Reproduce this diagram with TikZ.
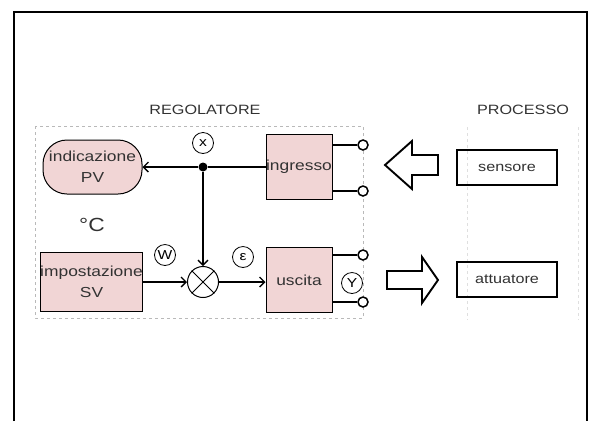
\documentclass[tikz,border=0pt]{standalone}
\usepackage{fontspec}
\setmainfont{Liberation Sans}[FakeStretch=1.2]
\usetikzlibrary{arrows.meta,calc}
\definecolor{blockpink}{RGB}{241,213,213}
\definecolor{inkgray}{RGB}{50,50,50}

\begin{document}
\begin{tikzpicture}[x=1pt,y=-1pt]
% ---------------------------------------------------------
% Dimensions (pixel-like units, y grows downwards)
% ---------------------------------------------------------
\def\PicW{596}       % picture width
\def\PicH{421}       % picture height
\def\TermX{363}      % x of the terminal circles
\def\MainY{167}      % y of the measured-value line
\def\SumY{282}       % y of the error line

% ---------------------------------------------------------
% Styles
% ---------------------------------------------------------
\tikzset{
  block/.style={fill=blockpink, draw=black, line width=1pt,
    inner sep=0pt, align=center, text=inkgray,
    font=\fontsize{14.5}{21}\selectfont},
  pv block/.style={block, rounded corners=24pt},
  out box/.style={draw=black, line width=1.6pt, minimum width=100,
    minimum height=35, inner sep=0pt, text=inkgray,
    font=\fontsize{13.5}{16}\selectfont},
  tag/.style={circle, draw=black, line width=0.8pt, minimum size=21,
    inner sep=0pt, font=\fontsize{13}{13}\selectfont},
  sumnode/.style={circle, draw=black, line width=1pt, minimum size=31,
    inner sep=0pt},
  junction/.style={circle, fill=black, minimum size=9, inner sep=0pt},
  term/.style={circle, draw=black, line width=1.5pt, fill=white,
    minimum size=10, inner sep=0pt},
  conn/.style={line width=1.3pt, -{Straight Barb[length=5pt,width=10pt]}},
  wire/.style={line width=1.3pt},
  hollow arrow/.style={draw=black, line width=1.9pt, line join=miter},
  title text/.style={text=inkgray, font=\fontsize{13.5}{16}\selectfont},
  zone/.style={draw=gray!55, dashed, line width=0.5pt},
  zone faint/.style={draw=gray!25, dashed, line width=0.5pt}
}

\useasboundingbox (0,0) rectangle (\PicW,\PicH);

% =========================================================
% 1) OUTER FRAME (open at the bottom)
% =========================================================
\draw[line width=2pt] (14,\PicH) |- (587,12) -- (587,\PicH);

% =========================================================
% 2) ZONES AND TITLES
% =========================================================
\draw[zone] (35,126) rectangle (363,318);
\draw[zone faint] (467,127) -- (467,320);
\draw[zone faint] (578,127) -- (578,320);

\node[title text] (regtitle) at (205,110) {REGOLATORE};
\node[title text] (proctitle) at (523,110) {PROCESSO};

% =========================================================
% 3) BLOCKS OF THE CONTROLLER
% =========================================================
\node[pv block, minimum width=99, minimum height=54] (pv) at (92.5,\MainY)
  {indicazione\\PV};
\node[block, minimum width=97, minimum height=59] (imp) at (91.5,\SumY)
  {impostazione\\SV};
\node[block, minimum width=66, minimum height=65] (ingr) at (299,\MainY)
  {ingresso};
\node[block, minimum width=66, minimum height=65] (usc) at (299,280)
  {uscita};

\node[text=inkgray, font=\fontsize{19}{19}\selectfont] (unit) at (92,225)
  {\textdegree C};

% Junction and summing point
\node[junction] (jn) at (203,\MainY) {};
\node[sumnode] (sum) at (203,\SumY) {};
\draw[line width=1pt] (sum.north east) -- (sum.south west);
\draw[line width=1pt] (sum.north west) -- (sum.south east);

% Signal tags
\node[tag] (tagx) at (203,143) {x};
\node[tag] (tagw) at (165,255) {W};
\node[tag] (tage) at (243,257) {ε};
\node[tag] (tagy) at (352,283) {Y};

% =========================================================
% 4) SIGNAL LINES
% =========================================================
\draw[wire] (ingr.west) -- (jn);
\draw[conn] (jn) -- (pv.east);
\draw[conn] (jn) -- (sum.north);
\draw[conn] (imp.east |- sum.west) -- (sum.west);
\draw[conn] (sum.east) -- (sum.east -| usc.west);

% =========================================================
% 5) TERMINALS
% =========================================================
\node[term] (ti1) at (\TermX,145) {};
\node[term] (ti2) at (\TermX,191) {};
\node[term] (to1) at (\TermX,255) {};
\node[term] (to2) at (\TermX,302) {};
\foreach \t/\b in {ti1/ingr, ti2/ingr, to1/usc, to2/usc} {
  \draw[wire] (\b.east |- \t.west) -- (\t.west);
}

% =========================================================
% 6) PROCESS SIDE
% =========================================================
\node[out box] (sens) at (507,167.5) {sensore};
\node[out box] (att) at (507,279.5) {attuatore};

% Hollow arrow: sensor -> input
\draw[hollow arrow] (438,155) -- (412,155) -- (412,141) -- (385,165)
  -- (412,189) -- (412,175) -- (438,175) -- cycle;
% Hollow arrow: output -> actuator
\draw[hollow arrow] (387,271) -- (422,271) -- (422,257) -- (438,280)
  -- (422,303) -- (422,289) -- (387,289) -- cycle;

\end{tikzpicture}
\end{document}
